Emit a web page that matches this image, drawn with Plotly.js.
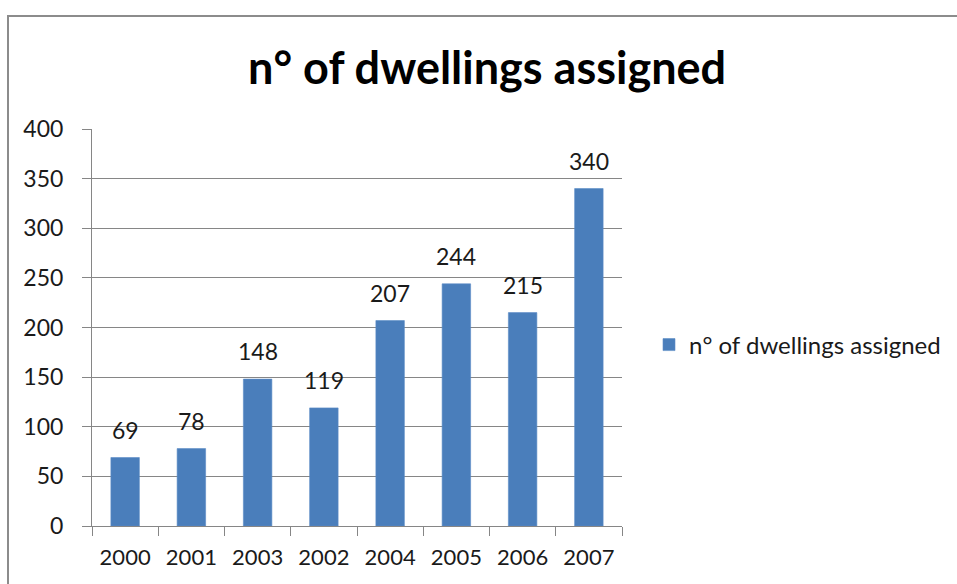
<!DOCTYPE html>
<html>
<head>
<meta charset="utf-8">
<script src="https://cdn.plot.ly/plotly-3.0.1.min.js"></script>
<style>
html,body{margin:0;padding:0;background:#fff;overflow:hidden;width:957px;height:584px;}
#frame{position:absolute;left:7px;top:15px;width:950px;height:569px;border-top:2px solid #8c8c8c;border-left:2px solid #8c8c8c;box-sizing:border-box;}
#chart{position:absolute;left:0;top:0;width:957px;height:584px;}
</style>
</head>
<body>
<div id="frame"></div>
<div id="chart"></div>
<script>
const categories = ["2000","2001","2003","2002","2004","2005","2006","2007"];
const values = [69, 78, 148, 119, 207, 244, 215, 340];
const seriesName = "n° of dwellings assigned";
const yTicks = [0,50,100,150,200,250,300,350,400];

const font = "Lato, 'Open Sans', sans-serif";
const trace = {
  type: "bar",
  x: categories,
  y: values,
  name: seriesName,
  marker: {color: "#4a7ebb", line: {color: "#5b8cc6", width: 0.6}},
  width: 0.43,
  hoverinfo: "none"
};

const annotations = categories.map((c, i) => ({
  x: i, y: values[i], xref: "x", yref: "y",
  text: String(values[i]), showarrow: false,
  yanchor: "bottom", yshift: 12,
  font: {family: font, size: 23, color: "#1a1a1a"}
}));

const layout = {
  width: 957, height: 584,
  margin: {l: 92, r: 335, t: 129, b: 58},
  paper_bgcolor: "rgba(0,0,0,0)",
  plot_bgcolor: "rgba(0,0,0,0)",
  title: {
    text: "<b>n° of dwellings assigned</b>",
    font: {family: font, size: 45, color: "#000"},
    xref: "container", x: 0.509, xanchor: "center",
    yref: "container", y: 1 - 68/584, yanchor: "middle"
  },
  showlegend: true,
  legend: {
    xref: "container", x: 649/957, xanchor: "left",
    yref: "container", y: 1 - 345/584, yanchor: "middle",
    font: {family: font, size: 24, color: "#1a1a1a"},
    itemwidth: 30, bgcolor: "rgba(0,0,0,0)"
  },
  xaxis: {
    type: "category",
    categoryorder: "array", categoryarray: categories,
    range: [-0.5, categories.length - 0.5], autorange: false,
    automargin: false,
    showline: true, linecolor: "#868686", linewidth: 1,
    ticks: "outside", tickson: "boundaries", ticklen: 9, tickcolor: "#868686",
    tickfont: {family: font, size: 22, color: "#1a1a1a"},
    tickangle: 0,
    ticklabelstandoff: 12,
    showgrid: false, zeroline: false, fixedrange: true
  },
  yaxis: {
    range: [0, 400], autorange: false, tickvals: yTicks, ticktext: yTicks.map(String),
    automargin: false,
    showline: true, linecolor: "#868686", linewidth: 1,
    ticks: "outside", ticklen: 9, tickcolor: "#868686",
    showgrid: true, gridcolor: "#868686", gridwidth: 1,
    zeroline: false,
    tickfont: {family: font, size: 23, color: "#1a1a1a"},
    ticklabelstandoff: 14, fixedrange: true
  },
  annotations: annotations
};

Plotly.newPlot("chart", [trace], layout, {displayModeBar: false, staticPlot: true});
</script>
</body>
</html>
